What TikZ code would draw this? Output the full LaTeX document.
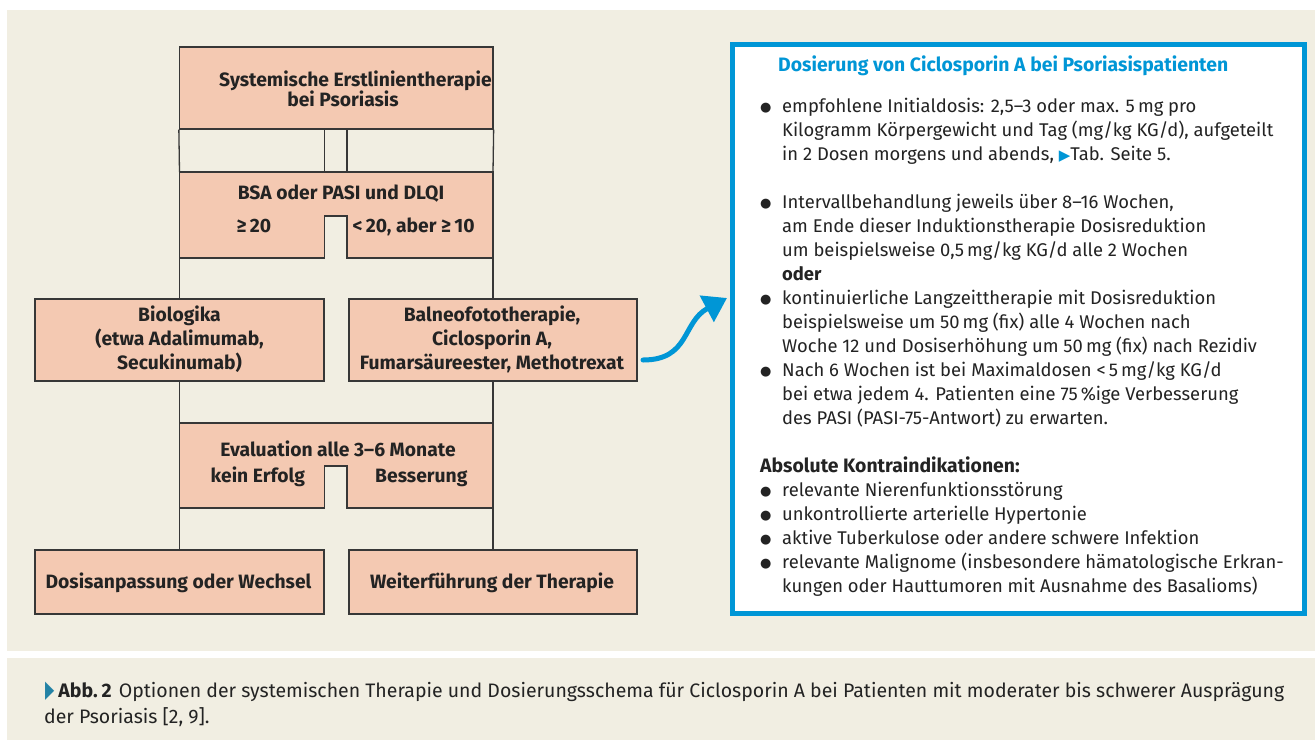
\documentclass[tikz,border=0pt]{standalone}
\usepackage{fontspec}
\setmainfont{Fira Sans}
\newfontfamily\bodyf{Fira Sans}
\newfontfamily\boxf{Fira Sans}
\newfontfamily\symf{DejaVu Sans}
\usetikzlibrary{arrows.meta}
\definecolor{beige}{RGB}{241,238,226}
\definecolor{salmon}{RGB}{244,201,178}
\definecolor{edge}{RGB}{55,55,55}
\definecolor{tblue}{RGB}{0,150,214}
\definecolor{ink}{RGB}{35,35,35}
\definecolor{capblue}{RGB}{35,130,165}
\tikzset{
  shapefill/.style={draw=edge, fill=salmon, line width=1.3pt},
  box/.style={shapefill, inner sep=0pt},
  conn/.style={draw=edge, line width=1.3pt},
  fc/.style={font=\boxf\bfseries\fontsize{19.3}{20}\selectfont, text=ink, inner sep=0pt, anchor=base},
  fcl/.style={fc, anchor=base west},
  body/.style={font=\bodyf\fontsize{18.4}{24}\selectfont, text=ink, inner sep=0pt, anchor=base west},
  bodyb/.style={body, font=\bodyf\bfseries\fontsize{19.4}{24}\selectfont},
  capt/.style={body, font=\bodyf\fontsize{19.5}{24}\selectfont},
}
\newcommand\dotb{\raisebox{1pt}{\symf\fontsize{13}{13}\selectfont ●}}
\newcommand\infoline[3]{\node[body] (#1) at (782,#2) {#3};}
\newcommand\infobullet[3]{\node[body] (#1b) at (760,#2) {\dotb}; \node[body] (#1) at (782,#2) {#3};}
\begin{document}
\begin{tikzpicture}[x=1pt,y=-1pt]
\path[use as bounding box] (0,0) rectangle (1315,740);
\fill[white] (0,0) rectangle (1315,740);
\fill[beige] (7,10) rectangle (1315,651);
\fill[beige] (7,658) rectangle (1315,740);

% flowchart boxes
\node[box, minimum width=313.5pt, minimum height=82pt] (top) at (336.25,88) {};
\node[fc] (topa) at (355.5,86) {Systemische Erstlinientherapie};
\node[fc] (topb) at (343,106) {bei Psoriasis};

\draw[shapefill] (179.5,172) coordinate (bsaNW) -- (493,172) coordinate (bsaNE)
  -- (493,258) coordinate (bsaSE) -- (347,258) -- (347,216) -- (324.5,216)
  -- (324.5,258) -- (179.5,258) coordinate (bsaSW) -- cycle;
\node[fc] (bsat) at (341,199.5) {BSA oder PASI und DLQI};
\node[fcl] (bsal) at (236.5,232) {≥\,20};
\node[fcl] (bsar) at (352.5,232) {<\,20, aber ≥\,10};

\node[box, minimum width=289pt, minimum height=82pt] (bio) at (179.5,340) {};
\node[fc] (bioa) at (179.5,321.5) {Biologika};
\node[fc] (biob) at (179.5,345.5) {(etwa Adalimumab,};
\node[fc] (bioc) at (179.5,369.5) {Secukinumab)};

\node[box, minimum width=288pt, minimum height=82pt] (bal) at (493,340) {};
\node[fc] (bala) at (492,321.5) {Balneofototherapie,};
\node[fc] (balb) at (492,345.5) {Ciclosporin A,};
\node[fc] (balc) at (492,369.5) {Fumarsäureester, Methotrexat};

\draw[shapefill] (179.5,423) coordinate (evNW) -- (493,423) coordinate (evNE)
  -- (493,508) coordinate (evSE) -- (347,508) -- (347,466) -- (324.5,466)
  -- (324.5,508) -- (179.5,508) coordinate (evSW) -- cycle;
\node[fc] (evt) at (338,456) {Evaluation alle 3–6 Monate};
\node[fcl] (evl) at (210.5,482.5) {kein Erfolg};
\node[fcl] (evr) at (375,482.5) {Besserung};

\node[box, minimum width=289pt, minimum height=64pt] (dos) at (179.5,582) {};
\node[fc] (dost) at (178.5,588) {Dosisanpassung oder Wechsel};
\node[box, minimum width=288pt, minimum height=64pt] (wei) at (493,582) {};
\node[fc] (weit) at (492,588) {Weiterführung der Therapie};

% connectors
\coordinate (chLt) at (324.5,129); \coordinate (chLb) at (324.5,172);
\coordinate (chRt) at (347,129);   \coordinate (chRb) at (347,172);
\draw[conn] (top.south west) -- (bsaNW);
\draw[conn] (top.south east) -- (bsaNE);
\draw[conn] (chLt) -- (chLb);
\draw[conn] (chRt) -- (chRb);
\draw[conn] (bsaSW) -- (bio.north);
\draw[conn] (bsaSE) -- (bal.north);
\draw[conn] (bio.south) -- (evNW);
\draw[conn] (bal.south) -- (evNE);
\draw[conn] (evSW) -- (dos.north);
\draw[conn] (evSE) -- (wei.north);

% info frame
\node[draw=tblue, line width=5pt, fill=white, inner sep=0pt, minimum width=572pt, minimum height=569pt] (info) at (1018.5,329) {};

% blue arrow
\coordinate (arrS) at (643,360);
\coordinate (arrE) at (727,298);
\draw[tblue, line width=5pt, line cap=round, -{Triangle[length=23pt,width=29pt]}]
  (arrS) .. controls (690,360) and (682,322) .. (arrE);

% info text
\node[bodyb, text=tblue] (title) at (778,71) {Dosierung von Ciclosporin A bei Psoriasispatienten};
\infobullet{i1}{112}{empfohlene Initialdosis: 2,5–3 oder max. 5\,mg pro}
\infoline{i2}{136}{Kilogramm Körpergewicht und Tag (mg/kg KG/d), aufgeteilt}
\infoline{i3}{160}{in 2 Dosen morgens und abends, {\symf\fontsize{15}{15}\selectfont\color{tblue}▶}Tab. Seite 5.}
\infobullet{i4}{208}{Intervallbehandlung jeweils über 8–16 Wochen,}
\infoline{i5}{232}{am Ende dieser Induktionstherapie Dosisreduktion}
\infoline{i6}{256}{um beispielsweise 0,5\,mg/kg KG/d alle 2 Wochen}
\infoline{i7}{280}{\textbf{oder}}
\infobullet{i8}{304}{kontinuierliche Langzeittherapie mit Dosisreduktion}
\infoline{i9}{328}{beispielsweise um 50\,mg (fix) alle 4 Wochen nach}
\infoline{i10}{352}{Woche 12 und Dosiserhöhung um 50\,mg (fix) nach Rezidiv}
\infobullet{i11}{376}{Nach 6 Wochen ist bei Maximaldosen <\,5\,mg/kg KG/d}
\infoline{i12}{400}{bei etwa jedem 4. Patienten eine 75\,\%ige Verbesserung}
\infoline{i13}{424}{des PASI (PASI-75-Antwort) zu erwarten.}
\node[bodyb] (ki) at (760,472) {Absolute Kontraindikationen:};
\infobullet{k1}{496}{relevante Nierenfunktionsstörung}
\infobullet{k2}{520}{unkontrollierte arterielle Hypertonie}
\infobullet{k3}{544}{aktive Tuberkulose oder andere schwere Infektion}
\infobullet{k4}{568}{relevante Malignome (insbesondere hämatologische Erkran-}
\infoline{k5}{592}{kungen oder Hauttumoren mit Ausnahme des Basalioms)}

% caption
\node[capt] (cap1) at (45,697) {{\symf\fontsize{24}{24}\selectfont\color{capblue}\scalebox{0.5}[1]{▶}}\hspace{4pt}\textbf{Abb.\hspace{4pt}2}\hspace{7pt}Optionen der systemischen Therapie und Dosierungsschema für Ciclosporin A bei Patienten mit moderater bis schwerer Ausprägung};
\node[capt] (cap2) at (44,723) {der Psoriasis [2, 9].};
\end{tikzpicture}
\end{document}
